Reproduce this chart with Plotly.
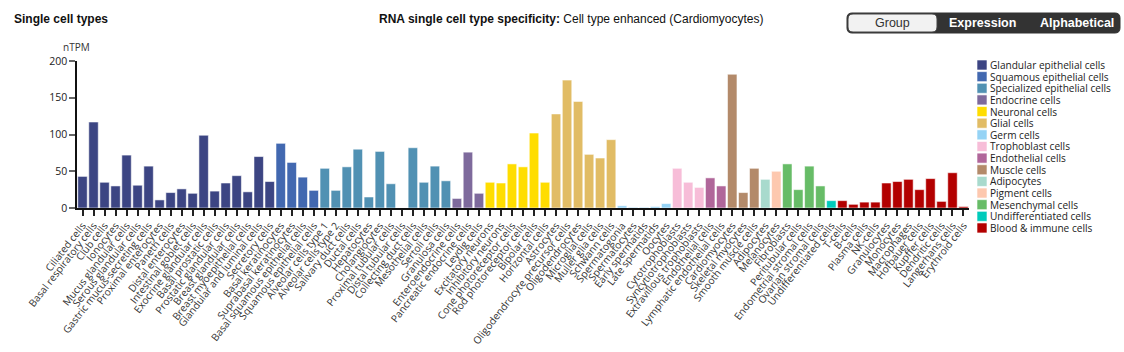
import plotly.graph_objects as go

# ---------------- data ----------------
group_names = ["Glandular epithelial cells", "Squamous epithelial cells", "Specialized epithelial cells",
               "Endocrine cells", "Neuronal cells", "Glial cells", "Germ cells", "Trophoblast cells",
               "Endothelial cells", "Muscle cells", "Adipocytes", "Pigment cells", "Mesenchymal cells",
               "Undifferentiated cells", "Blood & immune cells"]
group_colors = ["#3c4583", "#4268b0", "#5191b3", "#7e6a9c", "#ffdd00", "#e1bc65", "#95d3f5", "#f7bdd8",
                "#b0669a", "#b38a6a", "#a8dacd", "#fdc8af", "#67bc67", "#00cbbb", "#b30000"]

glandular_cells = ["Ciliated cells", "Basal respiratory cells", "Club cells", "Ionocytes", "Mucus glandular cells",
                   "Serous glandular cells", "Gastric mucus-secreting cells", "Proximal enterocytes", "Paneth cells",
                   "Distal enterocytes", "Intestinal goblet cells", "Exocrine glandular cells", "Basal prostatic cells",
                   "Prostatic glandular cells", "Breast glandular cells", "Breast myoepithelial cells",
                   "Glandular and luminal cells", "Secretory cells"]
glandular_vals = [43, 117, 35, 30, 72, 31, 57, 11, 21, 26, 20, 99, 23, 34, 44, 22, 70, 36]

squamous_cells = ["Basal keratinocytes", "Suprabasal keratinocytes", "Basal squamous epithelial cells",
                  "Squamous epithelial cells"]
squamous_vals = [88, 62, 42, 24]

specialized_cells = ["Alveolar cells type 1", "Alveolar cells type 2", "Salivary duct cells", "Ductal cells",
                     "Hepatocytes", "Cholangiocytes", "Proximal tubular cells", "Distal tubular cells",
                     "Collecting duct cells", "Mesothelial cells", "Sertoli cells", "Granulosa cells"]
specialized_vals = [54, 24, 56, 80, 15, 77, 33, 0, 82, 35, 57, 37]

endocrine_cells = ["Enteroendocrine cells", "Pancreatic endocrine cells", "Leydig cells"]
endocrine_vals = [13, 76, 20]

neuronal_cells = ["Excitatory neurons", "Inhibitory neurons", "Cone photoreceptor cells", "Rod photoreceptor cells",
                  "Bipolar cells", "Horizontal cells"]
neuronal_vals = [35, 34, 60, 56, 102, 35]

glial_cells = ["Astrocytes", "Oligodendrocyte precursor cells", "Oligodendrocytes", "Microglial cells",
               "Muller glia cells", "Schwann cells"]
glial_vals = [128, 174, 145, 73, 68, 93]

germ_cells = ["Spermatogonia", "Spermatocytes", "Early spermatids", "Late spermatids", "Oocytes"]
germ_vals = [3, 1, 1, 2, 6]

trophoblast_cells = ["Cytotrophoblasts", "Syncytiotrophoblasts", "Extravillous trophoblasts"]
trophoblast_vals = [54, 35, 28]

endothelial_cells = ["Endothelial cells", "Lymphatic endothelial cells"]
endothelial_vals = [41, 30]

muscle_cells = ["Cardiomyocytes", "Skeletal myocytes", "Smooth muscle cells"]
muscle_vals = [182, 21, 54]

adipocyte_cells = ["Adipocytes"]
adipocyte_vals = [39]

pigment_cells = ["Melanocytes"]
pigment_vals = [50]

mesenchymal_cells = ["Fibroblasts", "Peritubular cells", "Endometrial stromal cells", "Ovarian stromal cells"]
mesenchymal_vals = [60, 25, 57, 30]

undiff_cells = ["Undifferentiated cells"]
undiff_vals = [10]

blood_cells = ["T-cells", "B-cells", "Plasma cells", "NK-cells", "Granulocytes", "Monocytes", "Macrophages",
               "Hofbauer cells", "Kupffer cells", "Dendritic cells", "Langerhans cells", "Erythroid cells"]
blood_vals = [10, 5, 8, 8, 34, 36, 39, 25, 40, 9, 48, 2]

group_cells = [glandular_cells, squamous_cells, specialized_cells, endocrine_cells, neuronal_cells, glial_cells,
               germ_cells, trophoblast_cells, endothelial_cells, muscle_cells, adipocyte_cells, pigment_cells,
               mesenchymal_cells, undiff_cells, blood_cells]
group_vals = [glandular_vals, squamous_vals, specialized_vals, endocrine_vals, neuronal_vals, glial_vals,
              germ_vals, trophoblast_vals, endothelial_vals, muscle_vals, adipocyte_vals, pigment_vals,
              mesenchymal_vals, undiff_vals, blood_vals]

all_cells = [c for cells in group_cells for c in cells]

# ---------------- layout geometry (pixels) ----------------
W, H = 1124, 352
L, R, T, B = 77, 155, 61, 144
PW, PH = W - L - R, H - T - B


def px(x):
    return (x - L) / PW


def py(y):
    return (H - B - y) / PH


fig = go.Figure()
for name, color, cells, vals in zip(group_names, group_colors, group_cells, group_vals):
    fig.add_trace(go.Bar(
        x=cells, y=vals, name=name, showlegend=False,
        marker=dict(color=color, line=dict(color="rgba(255,255,255,0.55)", width=1)),
    ))

shapes = []
annotations = []

# manual legend
leg_x0, leg_y0, leg_dy = 977, 65, 11.64
for i, (name, color) in enumerate(zip(group_names, group_colors)):
    yc = leg_y0 + i * leg_dy
    shapes.append(dict(type="rect", xref="paper", yref="paper",
                       x0=px(leg_x0), x1=px(leg_x0 + 10), y0=py(yc - 5), y1=py(yc + 5),
                       fillcolor=color, line=dict(color="rgba(255,255,255,0.6)", width=1)))
    annotations.append(dict(xref="paper", yref="paper", x=px(leg_x0 + 12.5), y=py(yc),
                            xanchor="left", yanchor="middle", text=name, showarrow=False,
                            borderpad=0, borderwidth=0,
                            font=dict(family="Open Sans", size=10.1, color="#222")))


def rounded(x0, y0, x1, y1, r):
    pts = (f"M {px(x0 + r)},{py(y0)} L {px(x1 - r)},{py(y0)} Q {px(x1)},{py(y0)} {px(x1)},{py(y0 + r)} "
           f"L {px(x1)},{py(y1 - r)} Q {px(x1)},{py(y1)} {px(x1 - r)},{py(y1)} "
           f"L {px(x0 + r)},{py(y1)} Q {px(x0)},{py(y1)} {px(x0)},{py(y1 - r)} "
           f"L {px(x0)},{py(y0 + r)} Q {px(x0)},{py(y0)} {px(x0 + r)},{py(y0)} Z")
    return pts


# button group
shapes.append(dict(type="path", xref="paper", yref="paper", path=rounded(847, 13, 1120, 33, 5),
                   fillcolor="#333333", line=dict(color="#333333", width=1)))
shapes.append(dict(type="path", xref="paper", yref="paper", path=rounded(848, 14, 937, 32, 5),
                   fillcolor="#f2f2f2", line=dict(color="#444444", width=1)))
btn_font = dict(family="Liberation Sans", size=12.5)
annotations.append(dict(xref="paper", yref="paper", x=px(892), y=py(23), text="Group", showarrow=False,
                        xanchor="center", yanchor="middle", font=dict(color="#333", **btn_font)))
annotations.append(dict(xref="paper", yref="paper", x=px(983), y=py(23), text="<b>Expression</b>",
                        showarrow=False, xanchor="center", yanchor="middle", font=dict(color="white", **btn_font)))
annotations.append(dict(xref="paper", yref="paper", x=px(1077), y=py(23), text="<b>Alphabetical</b>",
                        showarrow=False, xanchor="center", yanchor="middle", font=dict(color="white", **btn_font)))

# titles
annotations.append(dict(xref="paper", yref="paper", x=px(12), y=py(19), text="<b>Single cell types</b>",
                        showarrow=False, xanchor="left", yanchor="middle",
                        font=dict(family="Liberation Sans", size=12, color="#111")))
annotations.append(dict(xref="paper", yref="paper", x=px(571), y=py(19),
                        text="<b>RNA single cell type specificity:</b> Cell type enhanced (Cardiomyocytes)",
                        showarrow=False, xanchor="center", yanchor="middle",
                        font=dict(family="Liberation Sans", size=12, color="#111")))
annotations.append(dict(xref="paper", yref="paper", x=px(76), y=py(47), text="nTPM",
                        showarrow=False, xanchor="center", yanchor="middle",
                        font=dict(family="Open Sans", size=10, color="#333")))

fig.update_layout(
    width=W, height=H,
    margin=dict(l=L, r=R, t=T, b=B, pad=0),
    paper_bgcolor="white", plot_bgcolor="white",
    bargap=0.14,
    shapes=shapes, annotations=annotations,
    showlegend=False,
    font=dict(family="Open Sans", color="#333"),
)
fig.update_xaxes(
    type="category", categoryorder="array", categoryarray=all_cells,
    range=[-0.5, len(all_cells) - 0.5],
    tickmode="array", tickvals=all_cells, ticktext=all_cells,
    showline=True, linecolor="#111", linewidth=1.5,
    ticks="outside", ticklen=6, tickcolor="#222", tickwidth=1.5,
    tickangle=-52, tickfont=dict(family="Open Sans", size=10.2, color="#333"),
    showgrid=False, zeroline=False, automargin=False,
)
fig.update_yaxes(
    range=[0, 200], dtick=50,
    showline=True, linecolor="#111", linewidth=1.5,
    ticks="outside", ticklen=6, tickcolor="#666", tickwidth=1.5,
    tickfont=dict(family="Open Sans", size=10.5, color="#222"),
    showgrid=False, zeroline=False, automargin=False,
)

fig.write_html("out.html")
